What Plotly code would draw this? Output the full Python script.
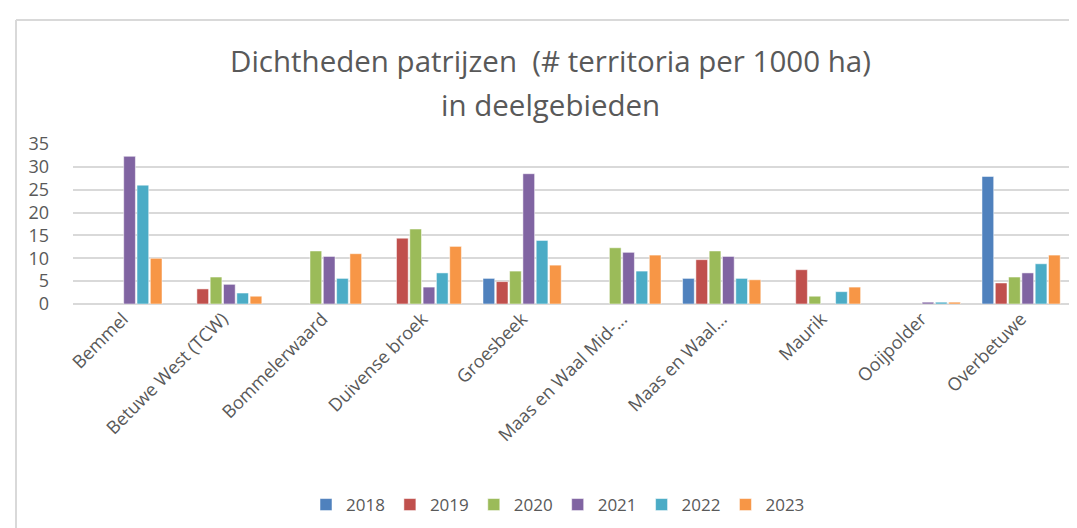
import plotly.graph_objects as go

gebieden = ["Bemmel", "Betuwe West (TCW)", "Bommelerwaard", "Duivense broek",
            "Groesbeek", "Maas en Waal Mid-...", "Maas en Waal...", "Maurik",
            "Ooijpolder", "Overbetuwe"]

jaren = ["2018", "2019", "2020", "2021", "2022", "2023"]

d2018 = [None, None, None, None, 5.6, None, 5.6, None, None, 27.9]
d2019 = [None, 3.3, None, 14.4, 4.9, None, 9.7, 7.5, None, 4.6]
d2020 = [None, 5.9, 11.6, 16.4, 7.2, 12.3, 11.6, 1.7, None, 5.9]
d2021 = [32.3, 4.3, 10.4, 3.7, 28.5, 11.3, 10.4, None, 0.4, 6.8]
d2022 = [26.0, 2.4, 5.6, 6.8, 13.9, 7.2, 5.6, 2.7, 0.4, 8.8]
d2023 = [10.0, 1.7, 11.0, 12.6, 8.5, 10.7, 5.3, 3.7, 0.4, 10.7]

kleuren = ["#4f81bd", "#c0504d", "#9bbb59", "#8064a2", "#4bacc6", "#f79646"]

W, H = 1077, 528
ML, MR, MT, MB = 65, 14, 136, 232

fig = go.Figure()
for jaar, waarden, kleur in zip(jaren, [d2018, d2019, d2020, d2021, d2022, d2023], kleuren):
    fig.add_trace(go.Bar(
        x=gebieden, y=waarden, name=jaar,
        marker=dict(color=kleur, line=dict(color="rgba(255,255,255,0.5)", width=1)),
    ))

pw = W - ML - MR
ph = H - MT - MB


def px_x(px):
    return (px - ML) / pw


def px_y(py):
    return (H - py - MB) / ph


# frame (only top and left edges are visible in the crop)
frame = dict(color="#d9d9d9", width=2)
fig.add_shape(type="line", xref="paper", yref="paper", x0=px_x(8), x1=px_x(W),
              y0=px_y(12), y1=px_y(12), line=frame)
fig.add_shape(type="line", xref="paper", yref="paper", x0=px_x(8), x1=px_x(8),
              y0=px_y(12), y1=px_y(H), line=frame)

titel = ["Dichtheden patrijzen  (# territoria per 1000 ha)", "in deelgebieden"]
for regel, py in zip(titel, [52, 96]):
    fig.add_annotation(text=regel, xref="paper", yref="paper", x=px_x(542), y=px_y(py),
                       xanchor="center", yanchor="middle", showarrow=False,
                       font=dict(family="Open Sans", size=29.5, color="#595959"))

fig.update_layout(
    width=W, height=H,
    margin=dict(l=ML, r=MR, t=MT, b=MB, autoexpand=False),
    paper_bgcolor="white", plot_bgcolor="white",
    font=dict(family="Open Sans", color="#595959", size=16),
    barmode="group", bargap=0.2, bargroupgap=0.12,
    legend=dict(orientation="h", x=px_x(550), xanchor="center", y=px_y(497), yanchor="middle",
                font=dict(size=17, color="#595959"), itemwidth=30),
    showlegend=True,
)
fig.update_yaxes(range=[0, 35], dtick=5, showgrid=True, gridcolor="#d9d9d9", gridwidth=1.5,
                 zeroline=True, zerolinecolor="#d9d9d9", zerolinewidth=1.5,
                 ticklabelstandoff=23, tickfont=dict(size=18, color="#595959"))
fig.update_xaxes(tickangle=-45, showline=False, tickfont=dict(size=18, color="#595959"))

fig.write_html("out.html")
